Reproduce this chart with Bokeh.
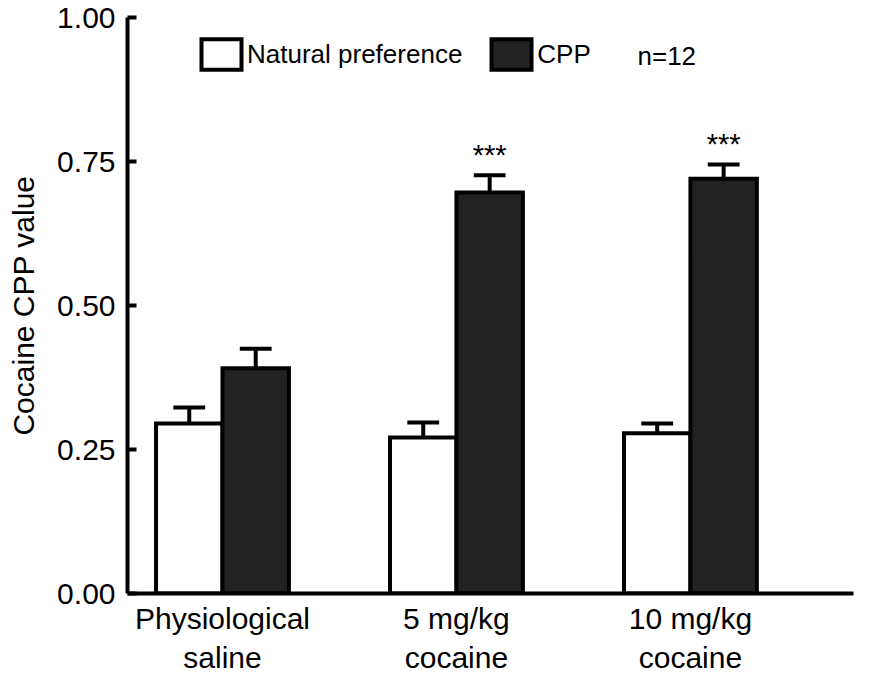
from bokeh.plotting import figure
from bokeh.models import Range1d, FixedTicker, Legend, LegendItem, Label, ColumnDataSource, NumeralTickFormatter
from bokeh.core.properties import value
from bokeh.embed import file_html
from bokeh.resources import INLINE

groups = ["Physiological\nsaline", "5 mg/kg\ncocaine", "10 mg/kg\ncocaine"]
natural = [0.295, 0.271, 0.278]
natural_err = [0.028, 0.026, 0.017]
cpp = [0.391, 0.696, 0.720]
cpp_err = [0.034, 0.030, 0.025]
stars = ["", "***", "***"]
y_ticks = [0.0, 0.25, 0.5, 0.75, 1.0]

FONT = "Liberation Sans"
idx = list(range(len(groups)))
off = 0.142
bw = 0.284
cap = 0.068

p = figure(width=880, height=678, output_backend="svg", toolbar_location=None,
           x_range=Range1d(-0.406, 2.697), y_range=Range1d(0, 1.0),
           min_border_left=127, min_border_right=27, min_border_top=17, min_border_bottom=85)
p.outline_line_color = None
p.xgrid.visible = False
p.ygrid.visible = False
p.background_fill_color = "white"

xn = [i - off for i in idx]
xc = [i + off for i in idx]

def err(xs, vals, errs):
    tops = [v + e for v, e in zip(vals, errs)]
    p.segment(x0=xs, y0=vals, x1=xs, y1=tops, line_color="black", line_width=4)
    p.segment(x0=[x - cap for x in xs], y0=tops, x1=[x + cap for x in xs], y1=tops,
              line_color="black", line_width=4)
    return tops

err(xn, natural, natural_err)
ctops = err(xc, cpp, cpp_err)

r1 = p.vbar(x=xn, top=natural, width=bw, bottom=0, fill_color="white",
            line_color="black", line_width=4, line_join="miter")
r2 = p.vbar(x=xc, top=cpp, width=bw, bottom=0, fill_color="#222222",
            line_color="black", line_width=4, line_join="miter")

src = ColumnDataSource(dict(x=xc, y=ctops, t=stars))
p.text(x="x", y="y", text="t", source=src, text_align="center", text_baseline="middle",
       y_offset=-20, text_font=value(FONT), text_font_size="29px", text_color="black")

legend = Legend(items=[LegendItem(label="Natural preference", renderers=[r1]),
                       LegendItem(label="CPP", renderers=[r2])],
                orientation="horizontal", location=(69, 520),
                glyph_width=50, glyph_height=38, label_standoff=1, spacing=24,
                label_text_font=FONT, label_text_font_size="26px", label_text_color="black",
                border_line_color=None, background_fill_alpha=0, padding=0, margin=0)
p.add_layout(legend, "center")
p.add_layout(Label(x=510, y=538, x_units="screen", y_units="screen", text="n=12",
                   text_font=FONT, text_font_size="26px", text_baseline="middle",
                   text_color="black"))

ya = p.yaxis[0]
ya.ticker = FixedTicker(ticks=y_ticks)
ya.formatter = NumeralTickFormatter(format="0.00")
ya.axis_line_width = 4
ya.major_tick_line_width = 4
ya.major_tick_in = 9
ya.major_tick_out = 0
ya.minor_tick_line_color = None
ya.major_label_text_font = FONT
ya.major_label_text_font_size = "30px"
ya.major_label_text_color = "black"
ya.major_label_standoff = 12
ya.axis_label = "Cocaine CPP value"
ya.axis_label_text_font = FONT
ya.axis_label_text_font_size = "30px"
ya.axis_label_text_font_style = "normal"
ya.axis_label_text_color = "black"
ya.axis_label_standoff = 14

xa = p.xaxis[0]
xa.ticker = FixedTicker(ticks=idx)
xa.major_label_overrides = {i: g for i, g in zip(idx, groups)}
xa.axis_line_width = 4
xa.major_tick_line_color = None
xa.minor_tick_line_color = None
xa.major_label_text_font = FONT
xa.major_label_text_font_size = "30px"
xa.major_label_text_color = "black"
xa.major_label_standoff = 2

open("out.html", "w").write(file_html(p, INLINE))
